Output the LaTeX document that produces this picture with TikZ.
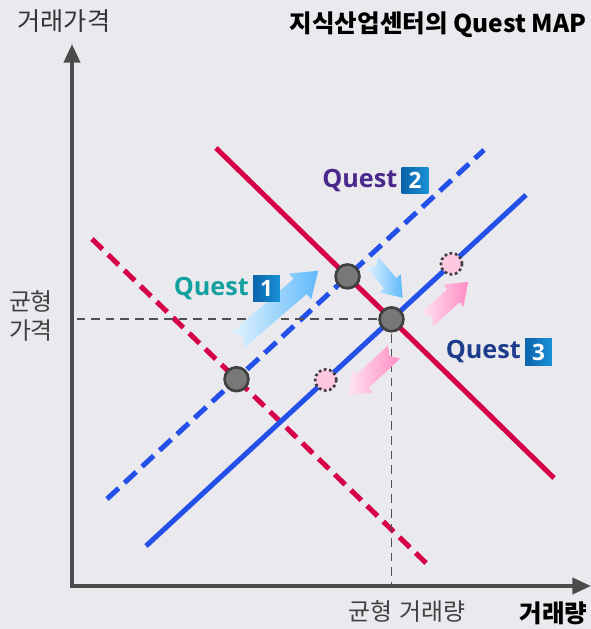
\documentclass[tikz,border=0pt]{standalone}
\usepackage{fontspec}
\setmainfont{Noto Sans CJK KR}
\newfontfamily\questfont{Open Sans}
\usetikzlibrary{arrows.meta,positioning,calc}

\definecolor{bgcol}{RGB}{234,233,238}
\definecolor{axiscol}{RGB}{75,75,75}
\definecolor{demandred}{RGB}{214,0,72}
\definecolor{supplyblue}{RGB}{34,80,232}
\definecolor{guidegray}{RGB}{80,80,80}
\definecolor{dotgray}{RGB}{120,120,120}
\definecolor{pinkdot}{RGB}{255,200,225}
\definecolor{qteal}{RGB}{20,160,160}
\definecolor{qpurple}{RGB}{75,40,140}
\definecolor{qnavy}{RGB}{30,60,140}
\definecolor{boxdark}{RGB}{10,100,170}
\definecolor{boxlight}{RGB}{25,145,215}
\definecolor{bluetail}{RGB}{228,244,255}
\definecolor{bluetip}{RGB}{95,185,250}
\definecolor{pinktail}{RGB}{255,228,242}
\definecolor{pinktip}{RGB}{255,140,195}

\tikzset{
  axisline/.style={axiscol, line width=3pt, -{Triangle[length=14pt, width=12pt]}},
  demand/.style={demandred, line width=3.8pt},
  supply/.style={supplyblue, line width=3.8pt},
  shifted/.style={dash pattern=on 11pt off 6pt},
  guide/.style={guidegray, line width=1.5pt, dash pattern=on 6.5pt off 4.5pt},
  market/.style={circle, draw=black!75, fill=dotgray, line width=2pt, minimum size=18pt, inner sep=0pt},
  moved/.style={circle, draw=black!75, fill=pinkdot, line width=2pt, dotted, minimum size=16pt, inner sep=0pt},
  questtext/.style={font=\questfont\bfseries\fontsize{19}{22}\selectfont, inner sep=0pt},
  questbox/.style={left color=boxdark, right color=boxlight, text=white, minimum size=20pt, inner sep=0pt,
    font=\questfont\bfseries\fontsize{17}{20}\selectfont},
  axislabel/.style={text=black!80, font=\fontsize{19}{22}\selectfont},
  eqlabel/.style={text=black!75, font=\fontsize{18}{22}\selectfont, align=center}
}

% #1 tail, #2 angle, #3 length, #4 shaft half width, #5 head half width, #6 head length, #7 tail colour, #8 tip colour
\newcommand{\fatarrow}[8]{%
  \begin{scope}[shift={(#1)}, rotate=#2]
    \shade[left color=#7, right color=#8]
      (0,-#4) -- ({#3-#6},-#4) -- ({#3-#6},-#5) -- (#3,0) -- ({#3-#6},#5)
      -- ({#3-#6},#4) -- (0,#4) -- (6,0) -- cycle;
  \end{scope}}

\begin{document}
\begin{tikzpicture}[x=0.0265cm, y=-0.0265cm]
\fill[bgcol] (0,0) rectangle (591,629);
\useasboundingbox (0,0) rectangle (591,629);

% axes
\coordinate (origin) at (72,586);
\coordinate (ytip) at (72,44);
\coordinate (xtip) at (591,586);
\draw[axisline] (origin |- 0,588) -- (ytip);
\draw[axisline] (70,586) -- (xtip);

% demand and supply lines
\coordinate (d1s) at (216,148);
\coordinate (d1e) at (554,478);
\coordinate (d0s) at (92,239);
\coordinate (d0e) at (426,563);
\coordinate (s0s) at (107,499);
\coordinate (s0e) at (484,150);
\coordinate (s1s) at (146,546);
\coordinate (s1e) at (526,195);
\draw[demand, shifted] (d0s) -- (d0e);
\draw[demand] (d1s) -- (d1e);
\draw[supply, dash pattern=on 12pt off 6pt] (s0s) -- (s0e);
\draw[supply] (s1s) -- (s1e);

% equilibrium points
\coordinate (eqA) at (intersection of d0s--d0e and s0s--s0e);
\coordinate (eqB) at (intersection of d1s--d1e and s0s--s0e);
\coordinate (eqC) at (intersection of d1s--d1e and s1s--s1e);
\draw[guide] (eqC) -- (origin |- eqC);
\draw[guide] (eqC) -- (eqC |- origin);

% quest arrows
\coordinate (q1tail) at (238,340);
\coordinate (q2tail) at (372,262);
\coordinate (q3up) at (427,320);
\coordinate (q3down) at (394,352);
\fatarrow{q1tail}{40.8}{106}{10}{17}{24}{bluetail}{bluetip}
\fatarrow{q2tail}{-49.4}{47}{8}{14}{19}{bluetail}{bluetip}
\fatarrow{q3up}{42.8}{56}{9}{15}{20}{pinktail}{pinktip}
\fatarrow{q3down}{223.1}{63}{9}{15}{20}{pinktail}{pinktip}

\node[market] (ptA) at (eqA) {};
\node[market] (ptB) at (eqB) {};
\node[market] (ptC) at (eqC) {};
\node[moved] (ptUp) at ($(s1s)!0.804!(s1e)$) {};
\node[moved] (ptDown) at ($(s1s)!0.473!(s1e)$) {};

% quest labels
\node[questbox] (q1box) at (266.5,288.5) {1};
\node[questtext, text=qteal, left=3pt of q1box] (q1text) {Quest};
\node[questbox] (q2box) at (415,180.5) {2};
\node[questtext, text=qpurple, left=3pt of q2box] (q2text) {Quest};
\node[questbox] (q3box) at (538.5,352) {3};
\node[questtext, text=qnavy, left=3pt of q3box] (q3text) {Quest};

% axis and title texts
\node[axislabel] (ylabel) at (64,21) {거래가격};
\node[axislabel, font=\bfseries\fontsize{18.5}{22}\selectfont, text=black, anchor=east] (title) at (591,25) {지식산업센터의 Quest MAP};
\node[axislabel, font=\bfseries\fontsize{18.5}{22}\selectfont, text=black, anchor=east] (xlabel) at (592,613) {거래량};
\node[eqlabel] (eqqty) at (407,611) {균형\,\,거래량};
\node[eqlabel, font=\fontsize{18}{22.5}\selectfont] (eqprice) at (31,316) {균형\\가격};
\end{tikzpicture}
\end{document}
